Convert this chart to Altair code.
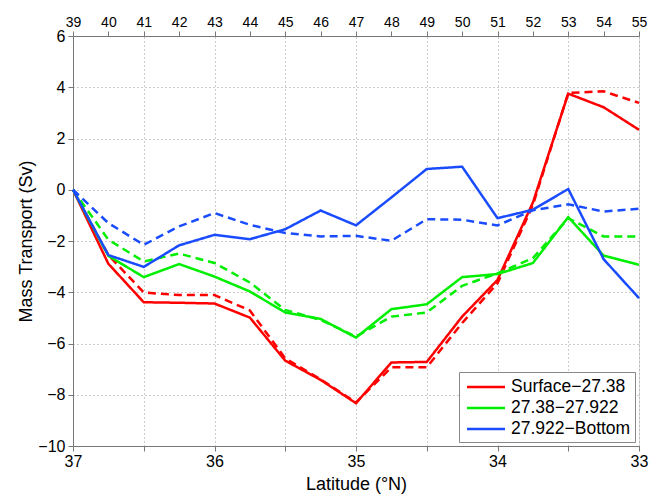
import altair as alt
import pandas as pd

stations = list(range(39, 56))
lat_ticks = [37, 36.5, 36, 35.5, 35, 34.5, 34, 33.5, 33]
series_names = ["Surface\u221227.38", "27.38\u221227.922", "27.922\u2212Bottom"]
series_colors = ["#ff0000", "#00ee00", "#1a4cff"]

red_solid = [0, -2.89, -4.39, -4.41, -4.44, -4.99, -6.67, -7.42, -8.33, -6.74, -6.72, -4.95, -3.52, -0.5, 3.75, 3.22, 2.34]
red_dashed = [0, -2.55, -4.01, -4.11, -4.11, -4.71, -6.58, -7.4, -8.3, -6.93, -6.93, -5.2, -3.65, -0.6, 3.78, 3.84, 3.39]
green_solid = [0, -2.58, -3.41, -2.90, -3.39, -3.97, -4.79, -5.04, -5.77, -4.66, -4.47, -3.41, -3.29, -2.86, -1.07, -2.57, -2.93]
green_dashed = [0, -1.95, -2.8, -2.49, -2.86, -3.62, -4.69, -5.08, -5.73, -4.95, -4.79, -3.75, -3.26, -2.67, -1.11, -1.82, -1.82]
blue_solid = [0, -2.55, -3.01, -2.17, -1.76, -1.93, -1.54, -0.81, -1.39, -0.3, 0.81, 0.90, -1.11, -0.78, 0.03, -2.71, -4.23]
blue_dashed = [0, -1.30, -2.15, -1.43, -0.91, -1.37, -1.69, -1.82, -1.80, -1.99, -1.15, -1.17, -1.39, -0.8, -0.57, -0.85, -0.74]

rows = []
for name, kind, vals in [
    (series_names[0], "solid", red_solid),
    (series_names[0], "dashed", red_dashed),
    (series_names[1], "solid", green_solid),
    (series_names[1], "dashed", green_dashed),
    (series_names[2], "solid", blue_solid),
    (series_names[2], "dashed", blue_dashed),
]:
    for s, v in zip(stations, vals):
        rows.append({"station": s, "value": v, "series": name, "kind": kind, "key": name + kind})
df = pd.DataFrame(rows)
lat_df = pd.DataFrame({"lat": lat_ticks})

FONT = "Liberation Sans"

yenc = alt.Y("value:Q",
             scale=alt.Scale(domain=[-10, 6], nice=False),
             axis=alt.Axis(values=list(range(-10, 7, 2)), title="Mass Transport (Sv)",
                           grid=True, gridDash=[1, 3], gridColor="#999999", gridWidth=1,
                           labelFontSize=16, titleFontSize=18, titleFontWeight="normal",
                           titlePadding=2, labelPadding=3, tickSize=5,
                           domainColor="#777777", tickColor="#777777", labelColor="black",
                           labelFont=FONT, titleFont=FONT))

lines = alt.Chart(df).mark_line(strokeWidth=2.5).encode(
    x=alt.X("station:Q", scale=alt.Scale(domain=[39, 55], nice=False, zero=False),
            axis=alt.Axis(orient="top", values=stations, title=None, grid=False,
                          labelFontSize=14, labelFont=FONT, tickSize=5, labelPadding=2,
                          domainColor="#777777", tickColor="#777777", labelColor="black",
                          labelFlush=False, labelOverlap=False)),
    y=yenc,
    color=alt.Color("series:N", scale=alt.Scale(domain=series_names, range=series_colors),
                    legend=alt.Legend(title=None, orient="none", legendX=386, legendY=336,
                                      symbolType="M-2,0H2", symbolStrokeWidth=2.5, symbolSize=361,
                                      symbolOffset=12,
                                      labelFontSize=17.5, labelFont=FONT, labelColor="black",
                                      strokeColor="#888888", fillColor="white", padding=4,
                                      rowPadding=1, labelOffset=14, cornerRadius=0)),
    strokeDash=alt.StrokeDash("kind:N", scale=alt.Scale(domain=["solid", "dashed"], range=[[1, 0], [8, 5]]),
                              legend=None),
    detail="key:N",
)

latax = alt.Chart(lat_df).mark_tick(opacity=0).encode(
    x=alt.X("lat:Q", scale=alt.Scale(domain=[37, 33], nice=False, zero=False),
            axis=alt.Axis(orient="bottom", values=lat_ticks, title="Latitude (\u00b0N)",
                          labelExpr="datum.value % 1 == 0 ? format(datum.value, 'd') : ''",
                          labelOverlap=False,
                          grid=True, gridDash=[1, 3], gridColor="#999999", gridWidth=1,
                          labelFontSize=16, titleFontSize=18, titleFontWeight="normal",
                          labelFont=FONT, titleFont=FONT, tickSize=5, labelPadding=2,
                          titlePadding=6, labelFlush=False,
                          domainColor="#777777", tickColor="#777777", labelColor="black")),
    y=alt.value(0),
)

chart = alt.layer(latax, lines).resolve_scale(x="independent").properties(
    width=566, height=410,
    autosize=alt.AutoSizeParams(type="none"),
    padding={"left": 73, "top": 36, "right": 13, "bottom": 51},
).configure_view(stroke="#777777", strokeWidth=1).configure(background="white")

chart.save("out.html", embed_options={"renderer": "svg", "actions": False})
